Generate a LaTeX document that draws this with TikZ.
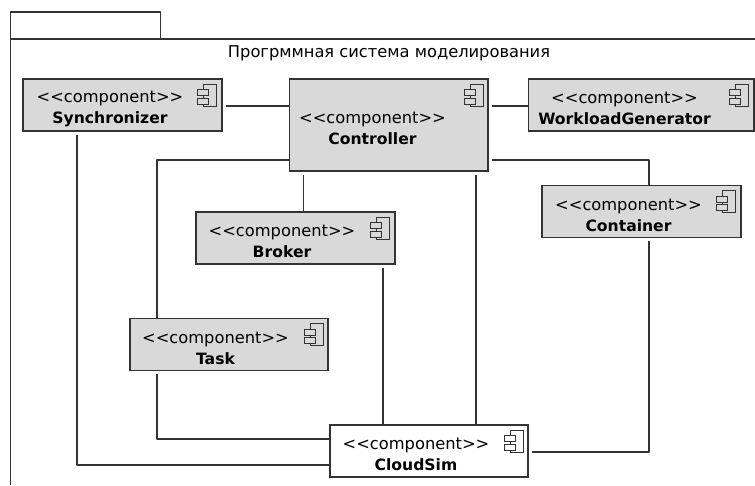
\documentclass[tikz,border=0pt]{standalone}
\usepackage{fontspec}
\setmainfont{DejaVu Sans}
\definecolor{boxgray}{HTML}{D9D9D9}
\definecolor{linegray}{HTML}{333333}
\newcommand{\comptext}[1]{<{}<component>{}>\\{\fontsize{11.7}{15.75}\selectfont\bfseries #1}}
\newcommand{\compicon}[2]{%
\draw [icon] ([shift={(-14.25pt,-4.5pt)}]#1.north east) rectangle ([shift={(-4.5pt,-21pt)}]#1.north east);
\draw [icon,fill=#2] ([shift={(-18.75pt,-8.8pt)}]#1.north east) rectangle ([shift={(-10.5pt,-13.3pt)}]#1.north east);
\draw [icon,fill=#2] ([shift={(-18.75pt,-15pt)}]#1.north east) rectangle ([shift={(-10.5pt,-19.5pt)}]#1.north east);
}
\tikzset{
  comp/.style={draw=linegray,line width=1.3pt,fill=boxgray,minimum width=149pt,minimum height=39pt,inner sep=0pt},
  comptxt/.style={align=center,font=\fontsize{12.2}{15.75}\selectfont,inner sep=0pt},
  icon/.style={draw=linegray,line width=.6pt},
  wire/.style={draw=linegray,line width=1.3pt,line join=round},
  gapa/.style={shorten <=2.25pt},
  gapb/.style={shorten >=2.25pt}
}
\begin{document}
\begin{tikzpicture}[x=.75pt,y=-.75pt]
\useasboundingbox (0,0) rectangle (755,485);
% package frame
\draw [wire] (10.5,485)-- (10.5,12)-- (160.5,12)-- (160.5,39);
\draw [wire] (10.5,39)-- (755,39);
\node [font=\fontsize{12.2}{14}\selectfont,anchor=base,inner sep=0pt] (title) at (389,57) {Прогрммная система моделирования};
% components
\node [comp] (sync) at (122.5,105) {};
\node [comp,minimum height=69pt] (ctrl) at (388.75,125) {};
\node [comp,minimum width=169pt] (wgen) at (641.25,105) {};
\node [comp] (cont) at (641.5,211.5) {};
\node [comp] (brok) at (295.5,238) {};
\node [comp] (task) at (229,344.5) {};
\node [comp,fill=white] (csim) at (429,451) {};
% texts
\node [comptxt] (synctxt) at (110,108.5) {\comptext{Synchronizer}};
\node [comptxt] (ctrltxt) at (372.5,128.5) {\comptext{Controller}};
\node [comptxt] (wgentxt) at (624.5,108.5) {\comptext{WorkloadGenerator}};
\node [comptxt] (conttxt) at (628.5,215) {\comptext{Container}};
\node [comptxt] (broktxt) at (282,241.5) {\comptext{Broker}};
\node [comptxt] (tasktxt) at (215.5,348) {\comptext{Task}};
\node [comptxt] (csimtxt) at (416,454.5) {\comptext{CloudSim}};
% icons
\foreach \n/\c in {sync/boxgray,ctrl/boxgray,wgen/boxgray,cont/boxgray,brok/boxgray,task/boxgray,csim/white} {\compicon{\n}{\c}}
% connectors
\draw [wire,gapa] ([yshift=-.75pt]sync.east) -- ([yshift=-.75pt]sync.east -| ctrl.west);
\draw [wire,gapa] ([yshift=-.75pt]wgen.west -| ctrl.east) -- ([yshift=-.75pt]wgen.west);
\draw [wire,gapa] ([xshift=-34pt]sync.south) |- ([yshift=-10.5pt]csim.west);
\draw [wire] ([yshift=9pt]ctrl.south west) -| ([xshift=-54pt]task.north);
\draw [wire,gapa] ([xshift=-54pt]task.south) |- ([yshift=9.2pt]csim.west);
\draw [wire,gapa] ([xshift=-64pt]ctrl.south) -- ([xshift=-64pt]ctrl.south |- brok.north);
\draw [wire,gapa] ([xshift=65.6pt]ctrl.south) -- ([xshift=65.6pt]ctrl.south |- csim.north);
\draw [wire,gapa] ([xshift=65.8pt]brok.south) -- ([xshift=65.8pt]brok.south |- csim.north);
\draw [wire,gapa] ([yshift=9pt]ctrl.south east) -| ([xshift=5.6pt]cont.north);
\draw [wire,gapa,gapb] ([xshift=5.6pt]cont.south) |- ([yshift=-.75pt]csim.east);
\end{tikzpicture}
\end{document}
